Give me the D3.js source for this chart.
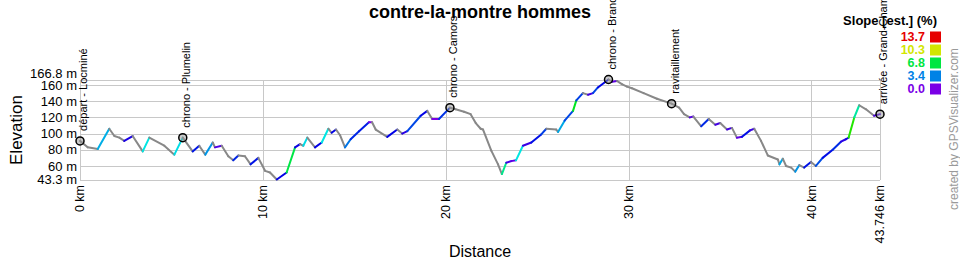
<!DOCTYPE html>
<html>
<head>
<meta charset="utf-8">
<script src="https://d3js.org/d3.v7.min.js"></script>
<style>
  body { margin: 0; background: #fff; }
  svg { display: block; font-family: Arial, "Liberation Sans", sans-serif; }
  .grid line { stroke: #c8c8c8; stroke-width: 1; shape-rendering: crispEdges; }
</style>
</head>
<body>
<script>
// profile (km, m)
var distKm = [0,0.42,0.97,1.60,1.88,2.15,2.42,2.88,3.43,3.79,4.61,5.16,5.62,6.16,6.52,6.85,7.26,7.38,7.75,8.11,
  8.38,8.66,9.02,9.33,9.75,10.12,10.39,10.76,11.30,11.76,12.03,12.21,12.43,12.85,13.22,13.58,13.76,14.00,14.22,14.49,
  14.80,15.26,15.80,15.97,16.17,16.80,17.35,17.62,17.90,18.63,18.99,19.26,19.63,20.23,20.54,21.00,21.36,21.64,21.91,22.04,
  22.49,22.86,23.07,23.31,23.58,23.84,24.22,24.68,25.22,25.50,26.04,26.14,26.50,26.96,27.14,27.50,27.78,28.05,28.32,28.90,
  29.10,29.36,29.63,29.91,30.18,30.82,31.55,32.35,32.76,33.03,33.34,33.54,33.97,34.38,34.74,35.01,35.38,35.65,35.92,36.20,
  36.64,36.87,37.24,37.61,38.16,38.25,38.43,38.61,38.89,39.11,39.33,39.60,39.97,40.24,40.61,41.16,41.61,41.88,42.03,42.34,
  42.61,42.98,43.42,43.746];
var elevM = [91,83,81,106,97,95,91,97,78,95,85,74,95,78,85,74,89,83,85,72,
  67,73,72,62,70,54,52,43.3,52,83,87,85,95,83,89,106,101,105,98,83,
  93,103,114,114,105,96,105,100,103,122,128,118,118,132,130,127,124,113,106,105,
  79,62,50,64,66,67,85,89,99,106,105,102,116,128,141,150,148,150,157,166.8,
  164,165,161,158,156,150,143,137,132,124,120,121,109,118,111,113,105,107,95,96,
  104,106,91,73,68,62,69,60,58,53,61,58,65,60,70,80,90,93,95,120,
  135,130,122,124];

var wpNames = ["départ - Locminé", "chrono - Plumelin", "chrono - Camors", "chrono - Brandivy", "ravitaillement", "arrivée - Grand-Champ"];
var wpDist = [0, 5.62, 20.23, 28.90, 32.35, 43.746];

var yTicks = [166.8, 160, 140, 120, 100, 80, 60, 43.3];
var xTicks = [0, 10, 20, 30, 40, 43.746];
var slopeLegend = [13.7, 10.3, 6.8, 3.4, 0.0];

var svg = d3.select("body").append("svg").attr("width", 960).attr("height", 260);

var x = d3.scaleLinear().domain([0, 43.746]).range([80, 880]);
var y = d3.scaleLinear().domain([43.3, 166.8]).range([179.5, 79.5]);

var hue = d3.scaleLinear().domain([0, 3.4, 6.8, 10.3, 13.7]).range([272, 206, 137, 65, 0]).clamp(true);
function slopeColor(s) { return d3.hsl(hue(s), 1, 0.45).formatHex(); }

// grid
var grid = svg.append("g").attr("class", "grid");
grid.selectAll(".h").data(yTicks).enter().append("line")
    .attr("x1", 80).attr("x2", 880)
    .attr("y1", function (d) { return Math.round(y(d)); })
    .attr("y2", function (d) { return Math.round(y(d)); });
grid.selectAll(".v").data(xTicks).enter().append("line")
    .attr("y1", y(166.8)).attr("y2", y(43.3))
    .attr("x1", function (d) { return Math.round(x(d)); })
    .attr("x2", function (d) { return Math.round(x(d)); });

// y labels
svg.append("g").selectAll("text").data(yTicks).enter().append("text")
    .attr("x", 77)
    .attr("y", function (d, i) { return y(d) + (i == 0 ? -6.5 : 0); })
    .attr("dy", "0.35em")
    .attr("text-anchor", "end")
    .style("font-size", "13px")
    .text(function (d) { return d + " m"; });

// x labels
svg.append("g").selectAll("text").data(xTicks).enter().append("text")
    .attr("transform", function (d) { return "translate(" + x(d) + ",185) rotate(-90)"; })
    .attr("dy", "0.35em")
    .attr("text-anchor", "end")
    .style("font-size", "12.5px")
    .text(function (d) { return d + " km"; });

// profile segments coloured by slope
var segs = d3.range(distKm.length - 1).map(function (i) {
    var dd = (distKm[i + 1] - distKm[i]) * 1000;
    var s = (elevM[i + 1] - elevM[i]) / dd * 100;
    return {x1: distKm[i], y1: elevM[i], x2: distKm[i + 1], y2: elevM[i + 1], s: s};
});
svg.append("g").selectAll("line").data(segs).enter().append("line")
    .attr("x1", function (d) { return x(d.x1); })
    .attr("y1", function (d) { return y(d.y1); })
    .attr("x2", function (d) { return x(d.x2); })
    .attr("y2", function (d) { return y(d.y2); })
    .attr("stroke", function (d) { return d.s < 0 ? "#888888" : slopeColor(d.s); })
    .attr("stroke-width", 2)
    .attr("stroke-linecap", "round");

// waypoints
function elevAt(km) {
    var i = d3.bisectLeft(distKm, km);
    if (i <= 0) return elevM[0];
    if (i >= distKm.length) return elevM[elevM.length - 1];
    var t = (km - distKm[i - 1]) / (distKm[i] - distKm[i - 1]);
    return elevM[i - 1] + t * (elevM[i] - elevM[i - 1]);
}
var wp = svg.append("g").selectAll("g").data(wpNames).enter().append("g")
    .attr("transform", function (d, i) { return "translate(" + x(wpDist[i]) + "," + y(elevAt(wpDist[i])) + ")"; });
wp.append("circle").attr("r", 4)
    .attr("fill", "rgba(150,150,150,0.5)")
    .attr("stroke", "#000").attr("stroke-width", 1.5);
wp.append("text")
    .attr("transform", "translate(7,-10) rotate(-90)")
    .style("font-size", "11px")
    .text(function (d) { return d; });

// titles
svg.append("text").attr("x", 480).attr("y", 18).attr("text-anchor", "middle")
    .style("font-size", "18px").style("font-weight", "bold")
    .text("contre-la-montre hommes");
svg.append("text").attr("x", 480).attr("y", 257).attr("text-anchor", "middle")
    .style("font-size", "16px").text("Distance");
svg.append("text").attr("transform", "translate(22,130) rotate(-90)").attr("text-anchor", "middle")
    .style("font-size", "17px").text("Elevation");

// legend
var leg = svg.append("g");
leg.append("text").attr("x", 937).attr("y", 25).attr("text-anchor", "end")
    .style("font-size", "13px").style("font-weight", "bold").text("Slope [est.] (%)");
var row = leg.selectAll(".row").data(slopeLegend).enter().append("g")
    .attr("transform", function (d, i) { return "translate(0," + (37 + i * 13) + ")"; });
row.append("text").attr("x", 925).attr("dy", "0.35em").attr("text-anchor", "end")
    .style("font-size", "12.5px").style("font-weight", "bold")
    .attr("fill", function (d) { return slopeColor(d); })
    .text(function (d) { return d.toFixed(1); });
row.append("rect").attr("x", 930).attr("y", -5.5).attr("width", 11).attr("height", 11)
    .attr("fill", function (d) { return slopeColor(d); });

// credit
svg.append("text").attr("transform", "translate(958,210) rotate(-90)")
    .style("font-size", "12px").attr("fill", "#999")
    .text("created by GPSVisualizer.com");
</script>
</body>
</html>
